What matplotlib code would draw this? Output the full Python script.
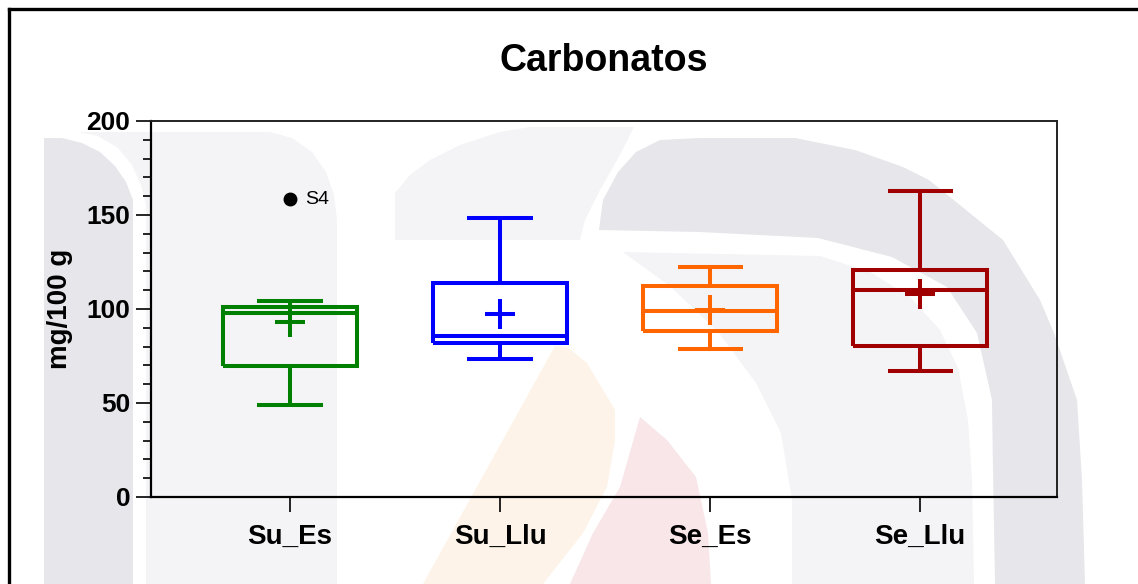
#!/usr/bin/env python3
import matplotlib
matplotlib.use("Agg")
import matplotlib.pyplot as plt
from matplotlib.patches import Polygon
from matplotlib.ticker import MultipleLocator

# values (mg/100 g)
groups = ['Su_Es', 'Su_Llu', 'Se_Es', 'Se_Llu']
whisker_low = [48.9, 73.2, 78.9, 66.8]
q1 = [69.5, 82.0, 88.2, 80.5]
median = [98.0, 85.5, 98.7, 110.0]
q3 = [101.3, 113.7, 112.0, 121.0]
whisker_high = [104.2, 148.3, 122.3, 162.8]
means = [93.2, 97.6, 99.7, 108.2]
outliers = [[158.5], [], [], []]
outlier_names = ['S4']
colors = ['#008000', '#0000ff', '#ff6600', '#a00000']

plt.rcParams['font.family'] = ['Liberation Sans', 'DejaVu Sans']
plt.rcParams['lines.solid_joinstyle'] = 'miter'
plt.rcParams['lines.solid_capstyle'] = 'butt'

W, H = 1138, 584
fig = plt.figure(figsize=(W / 100, H / 100), dpi=100)
fig.patch.set_facecolor('white')

# faint watermark behind the chart
bg = fig.add_axes([0, 0, 1, 1], zorder=-1)
bg.set_xlim(0, W)
bg.set_ylim(H, 0)
bg.axis('off')

dark = '#e6e6eb'
light = '#f4f4f6'
shapes = [
    (light, [(146, 584), (146, 205), (141, 185), (132, 165), (118, 148), (98, 136), (78, 132),
             (270, 132), (292, 138), (312, 152), (326, 172), (334, 195), (337, 220), (337, 584)]),
    (dark, [(44, 584), (44, 138), (62, 138), (82, 143), (100, 152), (115, 166), (126, 182),
            (133, 200), (133, 584)]),
    (light, [(395, 240), (395, 193), (410, 175), (430, 160), (460, 145), (500, 132), (530, 127),
             (634, 127), (620, 155), (600, 190), (585, 220), (580, 240)]),
    (dark, [(599, 230), (603, 200), (618, 172), (636, 152), (660, 140), (700, 138), (795, 138),
            (855, 150), (903, 167), (929, 180), (966, 210), (1003, 240), (1040, 300), (1054, 333),
            (1077, 400), (1082, 480), (1085, 584), (995, 584), (993, 470), (992, 400), (977, 333),
            (947, 287), (892, 257), (818, 238), (700, 232)]),
    (light, [(623, 252), (820, 256), (870, 272), (910, 297), (940, 330), (958, 368), (968, 420),
             (972, 480), (974, 584), (792, 584), (792, 500), (781, 433), (756, 383), (719, 333),
             (671, 287)]),
    ('#fdf3e8', [(555, 346), (567, 347), (587, 363), (615, 410), (615, 440), (607, 487),
                 (583, 533), (543, 584), (423, 584)]),
    ('#f8e6e8', [(640, 417), (667, 440), (696, 477), (708, 533), (711, 584), (570, 584),
                 (593, 533), (620, 487)]),
]
for col, pts in shapes:
    bg.add_patch(Polygon(pts, closed=True, facecolor=col, edgecolor='none'))

# outer frame (top and left only are visible)
bg.plot([9, 9], [8.5, H], color='black', lw=2.4, solid_capstyle='projecting')
bg.plot([9, W], [8.5, 8.5], color='black', lw=2.4, solid_capstyle='projecting')

ax = fig.add_axes([151 / W, 1 - 497 / H, (1057 - 151) / W, (497 - 121) / H])
ax.set_facecolor('none')

stats = []
for i in range(len(groups)):
    stats.append(dict(med=median[i], q1=q1[i], q3=q3[i], whislo=whisker_low[i],
                      whishi=whisker_high[i], mean=means[i], fliers=outliers[i],
                      label=groups[i]))

positions = list(range(len(groups)))
bp = ax.bxp(stats, positions=positions, widths=0.635, capwidths=0.31,
            showmeans=True, meanline=False, showfliers=True,
            flierprops=dict(marker='o', markerfacecolor='black', markeredgecolor='black',
                            markersize=9, linestyle='none'))
lw = 2.9
for i, c in enumerate(colors):
    bp['boxes'][i].set(color=c, linewidth=lw)
    bp['medians'][i].set(color=c, linewidth=lw)
    bp['means'][i].set(marker='+', markersize=21, markeredgewidth=lw,
                       markeredgecolor=c, markerfacecolor=c)
    for k in (2 * i, 2 * i + 1):
        bp['whiskers'][k].set(color=c, linewidth=lw)
        bp['caps'][k].set(color=c, linewidth=lw)

# label the outlier
ax.annotate(outlier_names[0], xy=(0, outliers[0][0]), xytext=(11, 0),
            textcoords='offset points', va='center', ha='left', fontsize=14)

ax.set_xlim(-0.662, 3.652)
ax.set_ylim(0, 200)
ax.yaxis.set_major_locator(MultipleLocator(50))
ax.yaxis.set_minor_locator(MultipleLocator(10))
ax.set_xticks(positions)
ax.set_xticklabels(groups, fontsize=20, fontweight='bold')
for lab in ax.get_yticklabels():
    lab.set_fontweight('bold')
ax.tick_params(axis='y', which='major', length=11, width=1.2, labelsize=19, pad=4)
ax.tick_params(axis='y', which='minor', length=6, width=1.2)
ax.tick_params(axis='x', which='major', length=11, width=1.2, pad=8)

for side in ('left', 'bottom'):
    ax.spines[side].set_linewidth(1.6)
for side in ('top', 'right'):
    ax.spines[side].set_linewidth(1.4)
    ax.spines[side].set_color('#222222')

fig.text(604 / W, 1 - 71 / H, 'Carbonatos', ha='center', va='baseline',
         fontsize=27, fontweight='bold')
fig.text(60 / W, 1 - 309 / H, 'mg/100 g', ha='center', va='center', rotation=90,
         fontsize=20, fontweight='bold')

plt.savefig('out.png', dpi=100)
